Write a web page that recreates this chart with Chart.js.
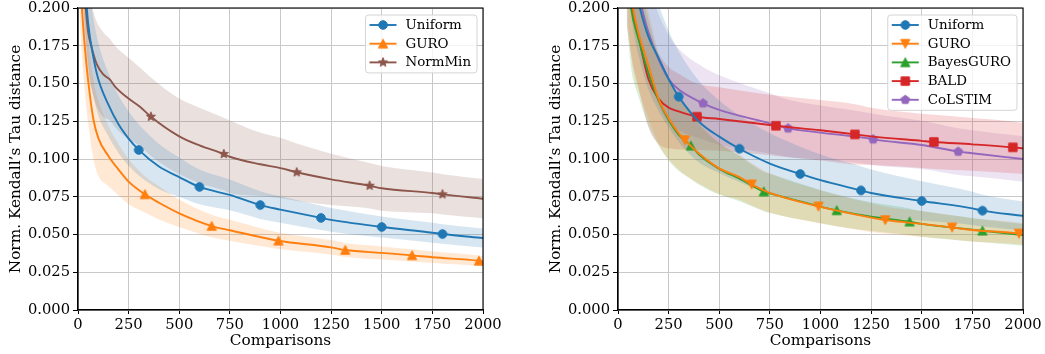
<!DOCTYPE html>
<html>
<head>
<meta charset="utf-8">
<script src="https://cdn.jsdelivr.net/npm/chart.js@4.4.1/dist/chart.umd.min.js"></script>
<style>
  html, body { margin: 0; padding: 0; background: #ffffff; }
  #wrap { position: relative; width: 1045px; height: 354px; overflow: hidden; }
  .panel { position: absolute; top: 0; width: 520px; height: 354px; }
</style>
</head>
<body>
<div id="wrap">
  <div class="panel" style="left:0px"><canvas id="leftChart" width="520" height="354"></canvas></div>
  <div class="panel" style="left:525px"><canvas id="rightChart" width="520" height="354"></canvas></div>
</div>
<script>
// ---------- axis ticks ----------
const xTicks = [0, 250, 500, 750, 1000, 1250, 1500, 1750, 2000];
const yTicks = [0, 0.025, 0.05, 0.075, 0.1, 0.125, 0.15, 0.175, 0.2];

// ---------- left panel: mean error and std band per method ----------
const uniformL_x  = [20, 35, 50, 75, 100, 150, 200, 250, 300, 400, 500, 600, 750, 900, 1000, 1200, 1250, 1500, 1750, 1800, 2000];
const uniformL_y  = [0.245, 0.215, 0.190, 0.168, 0.153, 0.136, 0.123, 0.1135, 0.106, 0.095, 0.088, 0.0815, 0.0762, 0.0695, 0.0665, 0.061, 0.0597, 0.055, 0.0512, 0.0503, 0.0477];
const uniformL_sd = [0.03, 0.03, 0.028, 0.026, 0.024, 0.021, 0.019, 0.018, 0.017, 0.015, 0.013, 0.0115, 0.0102, 0.0092, 0.0088, 0.008, 0.0078, 0.007, 0.0066, 0.0065, 0.0063];
const uniformL_marks = [300, 600, 900, 1200, 1500, 1800];

const guroL_x  = [8, 20, 35, 50, 75, 100, 150, 200, 250, 330, 400, 500, 660, 750, 990, 1250, 1320, 1500, 1650, 1750, 1980, 2000];
const guroL_y  = [0.225, 0.198, 0.172, 0.152, 0.127, 0.114, 0.102, 0.093, 0.085, 0.0766, 0.071, 0.064, 0.0556, 0.0528, 0.0459, 0.0415, 0.0397, 0.0378, 0.0362, 0.0349, 0.0326, 0.0322];
const guroL_sd = [0.03, 0.03, 0.03, 0.028, 0.026, 0.025, 0.02, 0.017, 0.015, 0.012, 0.011, 0.009, 0.0075, 0.007, 0.0055, 0.0048, 0.0046, 0.0043, 0.004, 0.0038, 0.0035, 0.0035];
const guroL_marks = [330, 660, 990, 1320, 1650, 1980];

const normMinL_x  = [12, 30, 50, 67, 92, 125, 158, 183, 240, 306, 360, 500, 600, 720, 750, 900, 1000, 1080, 1250, 1440, 1500, 1750, 1800, 2000];
const normMinL_y  = [0.24, 0.212, 0.184, 0.174, 0.163, 0.156, 0.1525, 0.148, 0.141, 0.1346, 0.128, 0.115, 0.109, 0.1033, 0.1015, 0.0965, 0.094, 0.0912, 0.0865, 0.0823, 0.0806, 0.0775, 0.0766, 0.0737];
const normMinL_sd = [0.028, 0.028, 0.028, 0.028, 0.028, 0.028, 0.027, 0.027, 0.027, 0.026, 0.026, 0.025, 0.025, 0.024, 0.024, 0.021, 0.02, 0.019, 0.017, 0.015, 0.0148, 0.0135, 0.0133, 0.013];
const normMinL_marks = [360, 720, 1080, 1440, 1800];

// ---------- right panel ----------
const uniformR_x  = [50, 80, 108, 150, 200, 250, 300, 400, 500, 600, 750, 900, 1000, 1200, 1250, 1500, 1750, 1800, 2000];
const uniformR_y  = [0.245, 0.217, 0.200, 0.181, 0.167, 0.153, 0.1413, 0.1247, 0.1148, 0.1068, 0.097, 0.0901, 0.086, 0.0792, 0.0775, 0.0722, 0.0673, 0.0658, 0.0623];
const uniformR_sd = [0.035, 0.035, 0.035, 0.035, 0.035, 0.032, 0.03, 0.027, 0.024, 0.022, 0.02, 0.018, 0.017, 0.016, 0.0155, 0.013, 0.011, 0.0105, 0.0095];
const uniformR_marks = [300, 600, 900, 1200, 1500, 1800];

const guroR_x  = [50, 74, 100, 150, 200, 250, 300, 330, 400, 500, 600, 660, 750, 990, 1250, 1320, 1500, 1650, 1750, 1980, 2000];
const guroR_y  = [0.228, 0.200, 0.184, 0.162, 0.140, 0.127, 0.117, 0.1125, 0.1037, 0.0938, 0.088, 0.0832, 0.0775, 0.0686, 0.0612, 0.0596, 0.057, 0.0547, 0.053, 0.0507, 0.0503];
const guroR_sd = [0.04, 0.04, 0.038, 0.035, 0.03, 0.027, 0.024, 0.023, 0.02, 0.017, 0.015, 0.014, 0.013, 0.011, 0.0095, 0.009, 0.0085, 0.008, 0.0077, 0.0072, 0.0072];
const guroR_marks = [330, 660, 990, 1320, 1650, 1980];

const bayesR_x  = [42, 65, 100, 150, 200, 250, 300, 360, 400, 500, 600, 720, 750, 1000, 1080, 1250, 1440, 1500, 1750, 1800, 2000];
const bayesR_y  = [0.232, 0.200, 0.180, 0.157, 0.139, 0.126, 0.116, 0.1088, 0.103, 0.0935, 0.087, 0.0784, 0.0772, 0.0685, 0.0660, 0.0618, 0.0585, 0.057, 0.0532, 0.0525, 0.0497];
const bayesR_sd = [0.04, 0.04, 0.038, 0.035, 0.03, 0.027, 0.024, 0.022, 0.02, 0.017, 0.015, 0.013, 0.013, 0.011, 0.0105, 0.0095, 0.0088, 0.0085, 0.0078, 0.0076, 0.0072];
const bayesR_marks = [360, 720, 1080, 1440, 1800];

const baldR_x  = [45, 70, 100, 150, 200, 250, 300, 390, 500, 750, 780, 1000, 1170, 1250, 1500, 1560, 1750, 1950, 2000];
const baldR_y  = [0.222, 0.200, 0.182, 0.153, 0.140, 0.134, 0.1315, 0.128, 0.1265, 0.1225, 0.122, 0.119, 0.1163, 0.115, 0.112, 0.1113, 0.1097, 0.1077, 0.107];
const baldR_sd = [0.035, 0.035, 0.034, 0.032, 0.03, 0.027, 0.025, 0.022, 0.021, 0.02, 0.02, 0.02, 0.02, 0.019, 0.018, 0.018, 0.0175, 0.0172, 0.017];
const baldR_marks = [390, 780, 1170, 1560, 1950];

const colstimR_x  = [60, 90, 117, 150, 200, 250, 300, 420, 500, 750, 840, 1000, 1250, 1260, 1500, 1680, 1750, 2000];
const colstimR_y  = [0.235, 0.215, 0.200, 0.184, 0.166, 0.153, 0.146, 0.1369, 0.1325, 0.1236, 0.1203, 0.1175, 0.1133, 0.1130, 0.1093, 0.1049, 0.1038, 0.100];
const colstimR_sd = [0.03, 0.03, 0.03, 0.03, 0.03, 0.029, 0.027, 0.024, 0.023, 0.02, 0.019, 0.018, 0.017, 0.017, 0.016, 0.0155, 0.0153, 0.015];
const colstimR_marks = [420, 840, 1260, 1680];

// ---------- styling ----------
const COLORS = {
  blue: '#1f77b4', orange: '#ff7f0e', green: '#2ca02c',
  red: '#d62728', purple: '#9467bd', brown: '#8c564b'
};
const SERIF = "'DejaVu Serif', 'Liberation Serif', serif";

function hexToRgba(hex, a) {
  const n = parseInt(hex.slice(1), 16);
  return `rgba(${(n >> 16) & 255},${(n >> 8) & 255},${n & 255},${a})`;
}

// marker glyphs rendered once into small canvases
function makeMarker(shape, color) {
  const s = 16;
  const c = document.createElement('canvas');
  c.width = s; c.height = s;
  const g = c.getContext('2d');
  g.translate(s / 2, s / 2);
  g.fillStyle = color;
  g.strokeStyle = color;
  g.lineWidth = 1;
  g.lineJoin = 'miter';
  g.beginPath();
  if (shape === 'circle') {
    g.arc(0, 0, 4.3, 0, Math.PI * 2);
  } else if (shape === 'square') {
    g.rect(-4.2, -4.2, 8.4, 8.4);
  } else if (shape === 'triUp') {
    g.moveTo(0, -4.6); g.lineTo(4.6, 4.2); g.lineTo(-4.6, 4.2); g.closePath();
  } else if (shape === 'triDown') {
    g.moveTo(0, 4.6); g.lineTo(4.6, -4.2); g.lineTo(-4.6, -4.2); g.closePath();
  } else if (shape === 'pentagon') {
    for (let i = 0; i < 5; i++) {
      const a = -Math.PI / 2 + i * 2 * Math.PI / 5;
      const px = 4.6 * Math.cos(a), py = 4.6 * Math.sin(a);
      if (i === 0) g.moveTo(px, py); else g.lineTo(px, py);
    }
    g.closePath();
  } else if (shape === 'star') {
    for (let i = 0; i < 10; i++) {
      const r = i % 2 === 0 ? 4.8 : 4.8 * 0.42;
      const a = -Math.PI / 2 + i * Math.PI / 5;
      const px = r * Math.cos(a), py = r * Math.sin(a);
      if (i === 0) g.moveTo(px, py); else g.lineTo(px, py);
    }
    g.closePath();
  }
  g.fill();
  g.stroke();
  return c;
}

// one method -> mean line plus an upper/lower band pair filled in between
function buildSeries(label, color, shape, xs, ys, sd, marks) {
  const glyph = makeMarker(shape, color);
  const line = {
    label: label,
    isMain: true,
    data: xs.map((x, i) => ({ x: x, y: ys[i] })),
    borderColor: color,
    backgroundColor: color,
    borderWidth: 1.9,
    pointStyle: glyph,
    pointRadius: ctx => (ctx.raw && marks.includes(ctx.raw.x)) ? 5 : 0,
    pointHoverRadius: 0,
    fill: false,
    cubicInterpolationMode: 'monotone',
    clip: 0,
    order: 0
  };
  const upper = {
    label: '',
    data: xs.map((x, i) => ({ x: x, y: ys[i] + sd[i] })),
    borderColor: 'rgba(0,0,0,0)',
    borderWidth: 0,
    pointRadius: 0,
    backgroundColor: hexToRgba(color, 0.18),
    fill: '+1',
    cubicInterpolationMode: 'monotone',
    clip: 0,
    order: 5
  };
  const lower = {
    label: '',
    data: xs.map((x, i) => ({ x: x, y: ys[i] - sd[i] })),
    borderColor: 'rgba(0,0,0,0)',
    borderWidth: 0,
    pointRadius: 0,
    backgroundColor: 'rgba(0,0,0,0)',
    fill: false,
    cubicInterpolationMode: 'monotone',
    clip: 0,
    order: 5
  };
  return [upper, lower, line];
}

// box legend in the upper right corner of the plot area
const boxLegend = {
  id: 'boxLegend',
  afterDraw(chart) {
    const { ctx, chartArea } = chart;
    const entries = chart.data.datasets.filter(d => d.isMain);
    ctx.save();
    ctx.font = `13.4px ${SERIF}`;
    const tw = Math.max(...entries.map(e => ctx.measureText(e.label).width));
    const rowH = 18.7;
    const w = 40 + tw + 6;
    const h = 10 + (entries.length - 1) * rowH + 10.5;
    const x0 = chartArea.right - 6 - w;
    const y0 = chartArea.top + 7;
    const r = 3;
    ctx.beginPath();
    ctx.moveTo(x0 + r, y0);
    ctx.lineTo(x0 + w - r, y0);
    ctx.quadraticCurveTo(x0 + w, y0, x0 + w, y0 + r);
    ctx.lineTo(x0 + w, y0 + h - r);
    ctx.quadraticCurveTo(x0 + w, y0 + h, x0 + w - r, y0 + h);
    ctx.lineTo(x0 + r, y0 + h);
    ctx.quadraticCurveTo(x0, y0 + h, x0, y0 + h - r);
    ctx.lineTo(x0, y0 + r);
    ctx.quadraticCurveTo(x0, y0, x0 + r, y0);
    ctx.closePath();
    ctx.fillStyle = 'rgba(255,255,255,0.8)';
    ctx.fill();
    ctx.strokeStyle = '#d4d4d4';
    ctx.lineWidth = 1;
    ctx.stroke();
    entries.forEach((e, i) => {
      const y = y0 + 10 + i * rowH;
      ctx.strokeStyle = e.borderColor;
      ctx.lineWidth = e.borderWidth;
      ctx.beginPath();
      ctx.moveTo(x0 + 4, y);
      ctx.lineTo(x0 + 31, y);
      ctx.stroke();
      const g = e.pointStyle;
      ctx.drawImage(g, x0 + 17.5 - g.width / 2, y - g.height / 2);
      ctx.fillStyle = '#000';
      ctx.textBaseline = 'middle';
      ctx.textAlign = 'left';
      ctx.fillText(e.label, x0 + 40, y + 0.5);
    });
    ctx.restore();
  }
};

// black frame on all four sides of the plot area
const frame = {
  id: 'frame',
  afterDatasetsDraw(chart) {
    const { ctx, chartArea: a } = chart;
    ctx.save();
    ctx.strokeStyle = '#000';
    ctx.lineWidth = 1.1;
    ctx.strokeRect(a.left, a.top, a.right - a.left, a.bottom - a.top);
    ctx.restore();
  }
};

function makeChart(canvasId, datasets, yWidth, padRight, titlePad) {
  return new Chart(document.getElementById(canvasId), {
    type: 'line',
    data: { datasets: datasets },
    plugins: [frame, boxLegend],
    options: {
      responsive: false,
      animation: false,
      events: [],
      layout: { padding: { left: 0, right: padRight, top: 8, bottom: 0 } },
      plugins: { legend: { display: false }, tooltip: { enabled: false } },
      scales: {
        x: {
          type: 'linear',
          min: 0, max: 2000,
          afterBuildTicks: s => { s.ticks = xTicks.map(v => ({ value: v })); },
          afterFit: s => { s.height = 44; s.paddingLeft = 0; s.paddingRight = 0; },
          ticks: {
            font: { family: SERIF, size: 14.7 },
            color: '#000',
            padding: 2,
            maxRotation: 0,
            callback: v => String(v)
          },
          grid: { color: '#c9c9c9', lineWidth: 1, tickLength: 4, tickColor: '#000', tickWidth: 1 },
          border: { display: true, color: '#000', width: 1.1 },
          title: {
            display: true, text: 'Comparisons', color: '#000',
            font: { family: SERIF, size: 15.3 },
            padding: { top: 0, bottom: 4 }
          }
        },
        y: {
          type: 'linear',
          min: 0, max: 0.2,
          afterBuildTicks: s => { s.ticks = yTicks.map(v => ({ value: v })); },
          afterFit: s => { s.width = yWidth; s.paddingTop = 0; s.paddingBottom = 0; },
          ticks: {
            font: { family: SERIF, size: 14.7 },
            color: '#000',
            padding: 3,
            callback: v => Number(v).toFixed(3)
          },
          grid: { color: '#c9c9c9', lineWidth: 1, tickLength: 5, tickColor: '#000', tickWidth: 1 },
          border: { display: true, color: '#000', width: 1.1 },
          title: {
            display: true, text: 'Norm. Kendall\u2019s Tau distance', color: '#000',
            font: { family: SERIF, size: 15.3 },
            padding: { top: titlePad, bottom: 0 }
          }
        }
      }
    }
  });
}

const leftSets = [].concat(
  buildSeries('Uniform', COLORS.blue, 'circle', uniformL_x, uniformL_y, uniformL_sd, uniformL_marks),
  buildSeries('GURO', COLORS.orange, 'triUp', guroL_x, guroL_y, guroL_sd, guroL_marks),
  buildSeries('NormMin', COLORS.brown, 'star', normMinL_x, normMinL_y, normMinL_sd, normMinL_marks)
);

const rightSets = [].concat(
  buildSeries('Uniform', COLORS.blue, 'circle', uniformR_x, uniformR_y, uniformR_sd, uniformR_marks),
  buildSeries('GURO', COLORS.orange, 'triDown', guroR_x, guroR_y, guroR_sd, guroR_marks),
  buildSeries('BayesGURO', COLORS.green, 'triUp', bayesR_x, bayesR_y, bayesR_sd, bayesR_marks),
  buildSeries('BALD', COLORS.red, 'square', baldR_x, baldR_y, baldR_sd, baldR_marks),
  buildSeries('CoLSTIM', COLORS.purple, 'pentagon', colstimR_x, colstimR_y, colstimR_sd, colstimR_marks)
);

makeChart('leftChart', leftSets, 78, 37, 7);
makeChart('rightChart', rightSets, 93, 22, 22);
</script>
</body>
</html>
